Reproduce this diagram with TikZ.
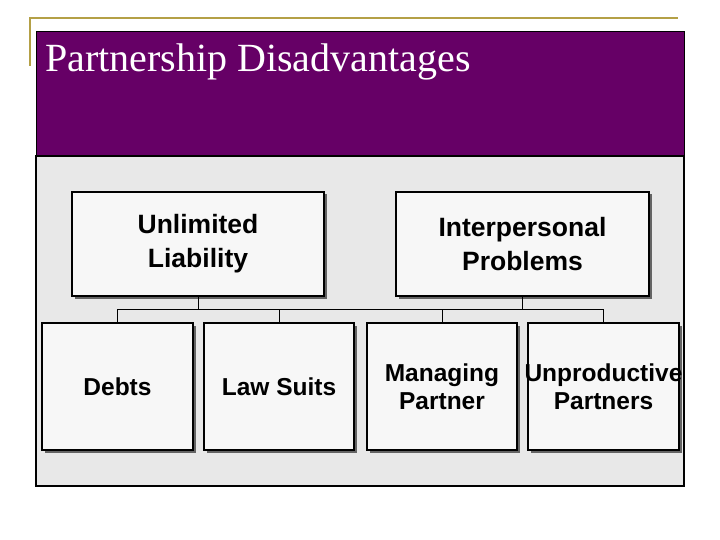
\documentclass[tikz,border=0pt]{standalone}
\usepackage{fontspec}
\setmainfont{Liberation Serif}
\newfontfamily\arialfont{Liberation Sans}
\usetikzlibrary{shadows}
\definecolor{goldline}{RGB}{180,160,70}
\definecolor{titlepurple}{RGB}{102,0,102}
\definecolor{panelgray}{RGB}{232,232,232}
\definecolor{boxfill}{RGB}{247,247,247}
\definecolor{shadowgray}{RGB}{100,100,100}
\tikzset{
  orgbox/.style={draw=black, line width=1.2pt, fill=boxfill, inner sep=0pt, align=center,
    drop shadow={shadow xshift=2.5pt, shadow yshift=-2.5pt, fill=shadowgray, opacity=1}},
  topbox/.style={orgbox, minimum width=252pt, minimum height=104pt,
    font=\arialfont\bfseries\fontsize{26.5}{34}\selectfont},
  leafbox/.style={orgbox, minimum width=151pt, minimum height=127pt,
    font=\arialfont\bfseries\fontsize{24.5}{28}\selectfont},
  link/.style={draw=black, line width=0.9pt}
}
\begin{document}
\begin{tikzpicture}[x=1pt,y=-1pt]
\useasboundingbox (0,0) rectangle (720,540);
% gold frame lines
\draw[goldline, line width=2pt] (29.5,66) -- (29.5,17.7) -- (678,17.7);
% title band
\fill[titlepurple] (36,31) rectangle (684,156);
\draw[black, line width=0.8pt] (36,31) rectangle (684,156);
% content panel
\draw[black, line width=1.2pt, fill=panelgray] (36,156) rectangle (684,486);
% title
\node[anchor=base west, inner sep=0pt, text=white, font=\fontsize{40}{48}\selectfont] (title) at (45,72) {Partnership Disadvantages};
% boxes
\node[topbox] (ul) at (198,244) {Unlimited\\Liability};
\node[topbox, minimum width=253pt] (ip) at (522.5,244) {Interpersonal\\Problems};
\node[leafbox] (debts) at (117.5,386.5) {Debts};
\node[leafbox, minimum width=150pt] (law) at (279,386.5) {Law Suits};
\node[leafbox, minimum width=150pt] (mp) at (442,386.5) {Managing\\Partner};
\node[leafbox] (up) at (603.5,386.5) {\makebox[140pt][c]{Unproductive}\\Partners};
% bus
\coordinate (bus) at (0,309);
\draw[link] (ul.south) -- (ul.south |- bus);
\draw[link] (ip.south) -- (ip.south |- bus);
\draw[link] (debts.north |- bus) -- (up.north |- bus);
\draw[link] (debts.north |- bus) -- (debts.north);
\draw[link] (law.north |- bus) -- (law.north);
\draw[link] (mp.north |- bus) -- (mp.north);
\draw[link] (up.north |- bus) -- (up.north);
\end{tikzpicture}
\end{document}
